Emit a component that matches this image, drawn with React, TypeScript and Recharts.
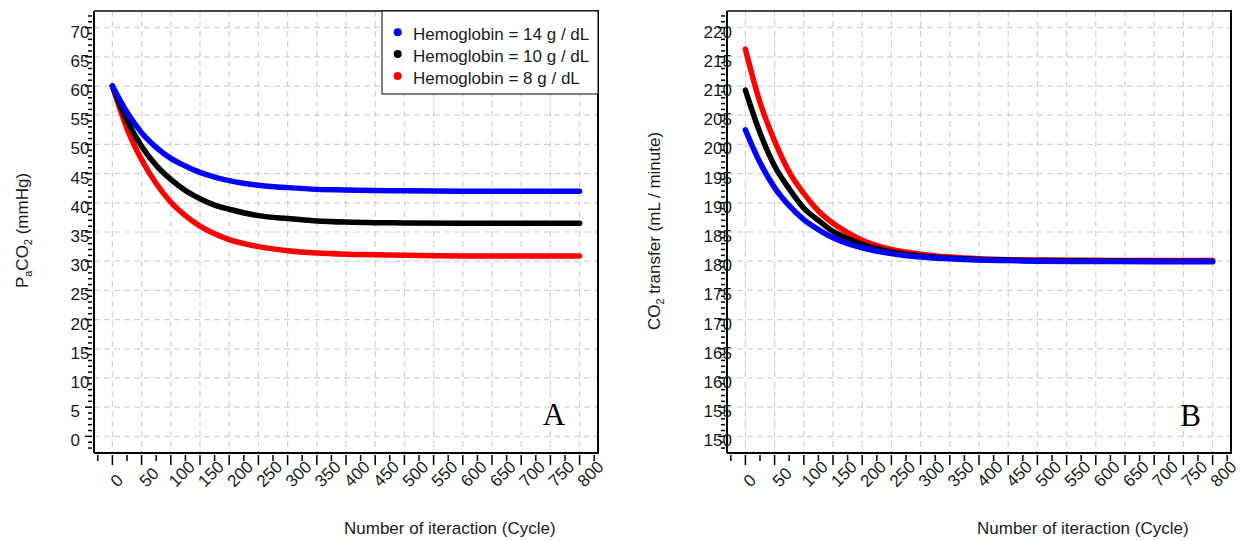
import React from 'react';
import { LineChart, Line, XAxis, YAxis, CartesianGrid } from 'recharts';

// iteration number (cycle)
const cycles = [0, 25, 50, 75, 100, 125, 150, 175, 200, 250, 300, 350, 400, 450, 500, 600, 700, 800];

// arterial PaCO2 (mmHg) per hemoglobin level
const paco2Hb14 = [60, 55.5, 52.0, 49.5, 47.6, 46.3, 45.2, 44.4, 43.8, 43.0, 42.6, 42.3, 42.2, 42.1, 42.05, 42.0, 42.0, 42.0];
const paco2Hb10 = [60, 54.1, 49.7, 46.4, 44.0, 42.1, 40.7, 39.6, 38.9, 37.8, 37.3, 36.9, 36.7, 36.6, 36.55, 36.5, 36.5, 36.5];
const paco2Hb8 = [60, 52.7, 47.4, 43.3, 40.1, 37.8, 36.0, 34.7, 33.7, 32.5, 31.8, 31.4, 31.2, 31.1, 31.0, 30.9, 30.9, 30.9];

// CO2 transfer (mL / minute) per hemoglobin level
const co2Hb14 = [202.5, 196.9, 192.6, 189.5, 187.1, 185.4, 184.0, 183.0, 182.3, 181.3, 180.7, 180.4, 180.2, 180.1, 180.0, 179.95, 179.9, 179.9];
const co2Hb10 = [209.3, 202.0, 196.3, 192.4, 189.1, 187.0, 185.1, 183.9, 182.9, 181.6, 180.9, 180.5, 180.3, 180.2, 180.1, 180.05, 180.0, 180.0];
const co2Hb8 = [216.3, 207.2, 200.6, 195.3, 191.6, 188.6, 186.5, 184.9, 183.6, 182.0, 181.2, 180.7, 180.4, 180.25, 180.2, 180.15, 180.1, 180.1];

const seriesNames = ['Hemoglobin = 14 g / dL', 'Hemoglobin = 10 g / dL', 'Hemoglobin = 8 g / dL'];
const seriesKeys = ['hb14', 'hb10', 'hb8'];
const seriesColors = ['#0000ff', '#000000', '#ff0000'];

const xMajor = [0, 50, 100, 150, 200, 250, 300, 350, 400, 450, 500, 550, 600, 650, 700, 750, 800];
const paco2Major = [0, 5, 10, 15, 20, 25, 30, 35, 40, 45, 50, 55, 60, 65, 70];
const co2Major = [150, 155, 160, 165, 170, 175, 180, 185, 190, 195, 200, 205, 210, 215, 220];

const range = (from: number, to: number, step: number) => {
  const out: number[] = [];
  for (let v = from; v <= to; v += step) out.push(v);
  return out;
};

const xTicks = range(-25, 825, 25);
const paco2Ticks = range(-2, 72, 1);
const co2Ticks = range(148, 222, 1);

const FONT = '"Liberation Sans", Arial, sans-serif';
const INK = '#1a1a1a';

const paco2Data = cycles.map((c, i) => ({ cycle: c, hb14: paco2Hb14[i], hb10: paco2Hb10[i], hb8: paco2Hb8[i] }));
const co2Data = cycles.map((c, i) => ({ cycle: c, hb14: co2Hb14[i], hb10: co2Hb10[i], hb8: co2Hb8[i] }));

function XTick(props: any) {
  const { x, y, payload } = props;
  const v = payload.value as number;
  const major = xMajor.includes(v);
  const lx = x + 5;
  const ly = y + 33;
  return (
    <g>
      <line x1={x} x2={x} y1={y} y2={y + (major ? 10 : 6)} stroke="#000" strokeWidth={1.5} />
      {major && (
        <text x={lx} y={ly} transform={`rotate(-45 ${lx} ${ly})`} textAnchor="start" fontSize={17} fontFamily={FONT} fill={INK}>
          {v}
        </text>
      )}
    </g>
  );
}

function makeYTick(majors: number[]) {
  return function YTick(props: any) {
    const { x, y, payload } = props;
    const v = payload.value as number;
    const major = majors.includes(v);
    return (
      <g>
        <line x1={x} x2={x - (major ? 7 : 4)} y1={y} y2={y} stroke="#000" strokeWidth={1.5} />
        {major && (
          <text x={x - 21.5} y={y + 10} textAnchor="start" fontSize={17} fontFamily={FONT} fill={INK}>
            {v}
          </text>
        )}
      </g>
    );
  };
}

const PaTick = makeYTick(paco2Major);
const Co2Tick = makeYTick(co2Major);

function Panel({ data, yDomain, yTicks, yMajor, YTickComp, width, margin }: any) {
  return (
    <LineChart width={width} height={541} data={data} margin={margin}>
      <CartesianGrid stroke="#d2d2d2" strokeWidth={1.2} strokeDasharray="6 4" verticalValues={xMajor} horizontalValues={yMajor} />
      <XAxis
        dataKey="cycle"
        type="number"
        domain={[-31.5, 831.5]}
        allowDataOverflow
        ticks={xTicks}
        interval={0}
        height={88}
        tickSize={0}
        tickLine={false}
        tick={<XTick />}
        axisLine={{ stroke: '#000', strokeWidth: 2 }}
      />
      <YAxis
        type="number"
        domain={yDomain}
        allowDataOverflow
        ticks={yTicks}
        interval={0}
        width={94}
        tickSize={0}
        tickLine={false}
        tick={<YTickComp />}
        axisLine={{ stroke: '#000', strokeWidth: 2 }}
      />
      {[2, 1, 0].map((i) => (
        <Line
          key={seriesKeys[i]}
          type="monotone"
          dataKey={seriesKeys[i]}
          name={seriesNames[i]}
          stroke={seriesColors[i]}
          strokeWidth={5.5}
          strokeLinecap="round"
          dot={false}
          activeDot={false}
          isAnimationActive={false}
        />
      ))}
    </LineChart>
  );
}

export default function App() {
  return (
    <div style={{ position: 'absolute', left: 0, top: 0, width: 1241, height: 541, background: '#fff', fontFamily: FONT }}>
      <div style={{ position: 'absolute', left: 0, top: 0 }}>
        <Panel
          data={paco2Data}
          yDomain={[-2.85, 72.85]}
          yTicks={paco2Ticks}
          yMajor={paco2Major}
          YTickComp={PaTick}
          width={620}
          margin={{ top: 11, right: 22, left: 0, bottom: 0 }}
        />
      </div>
      <div style={{ position: 'absolute', left: 633, top: 0 }}>
        <Panel
          data={co2Data}
          yDomain={[147.15, 222.85]}
          yTicks={co2Ticks}
          yMajor={co2Major}
          YTickComp={Co2Tick}
          width={608}
          margin={{ top: 11, right: 10, left: 0, bottom: 0 }}
        />
      </div>
      <svg width={1241} height={541} style={{ position: 'absolute', left: 0, top: 0, pointerEvents: 'none' }}>
        {/* frame: top and right edges of each plot */}
        <line x1={94} x2={598} y1={11} y2={11} stroke="#444" strokeWidth={2} />
        <line x1={598} x2={598} y1={10} y2={454} stroke="#000" strokeWidth={2} />
        <line x1={727} x2={1231} y1={11} y2={11} stroke="#444" strokeWidth={2} />
        <line x1={1231} x2={1231} y1={10} y2={454} stroke="#000" strokeWidth={2} />

        {/* legend */}
        <rect x={382} y={11} width={216} height={83} fill="#fff" stroke="#000" strokeWidth={1} />
        {seriesNames.map((name, i) => (
          <g key={name}>
            <circle cx={397.7} cy={32.3 + i * 21.8} r={4} fill={seriesColors[i]} />
            <text x={413} y={40.3 + i * 21.8} fontSize={17} fontFamily={FONT} fill={INK}>
              {name}
            </text>
          </g>
        ))}

        {/* axis titles */}
        <text x={27.5} y={230.5} transform="rotate(-90 27.5 230.5)" textAnchor="middle" fontSize={17} fontFamily={FONT} fill={INK}>
          P<tspan fontSize={11} dy={4}>a</tspan>
          <tspan dy={-4}>CO</tspan>
          <tspan fontSize={11} dy={4}>2</tspan>
          <tspan dy={-4}> (mmHg)</tspan>
        </text>
        <text x={659.5} y={231} transform="rotate(-90 659.5 231)" textAnchor="middle" fontSize={17} fontFamily={FONT} fill={INK}>
          CO<tspan fontSize={11} dy={4}>2</tspan>
          <tspan dy={-4}> transfer (mL / minute)</tspan>
        </text>
        <text x={344} y={534} textAnchor="start" fontSize={17} fontFamily={FONT} fill={INK}>
          Number of iteraction (Cycle)
        </text>
        <text x={977} y={534} textAnchor="start" fontSize={17} fontFamily={FONT} fill={INK}>
          Number of iteraction (Cycle)
        </text>

        {/* panel letters */}
        <text x={554} y={425} textAnchor="middle" fontSize={31} fontFamily='"Liberation Serif", "Times New Roman", serif' fill="#000">
          A
        </text>
        <text x={1190.5} y={426} textAnchor="middle" fontSize={31} fontFamily='"Liberation Serif", "Times New Roman", serif' fill="#000">
          B
        </text>
      </svg>
    </div>
  );
}
